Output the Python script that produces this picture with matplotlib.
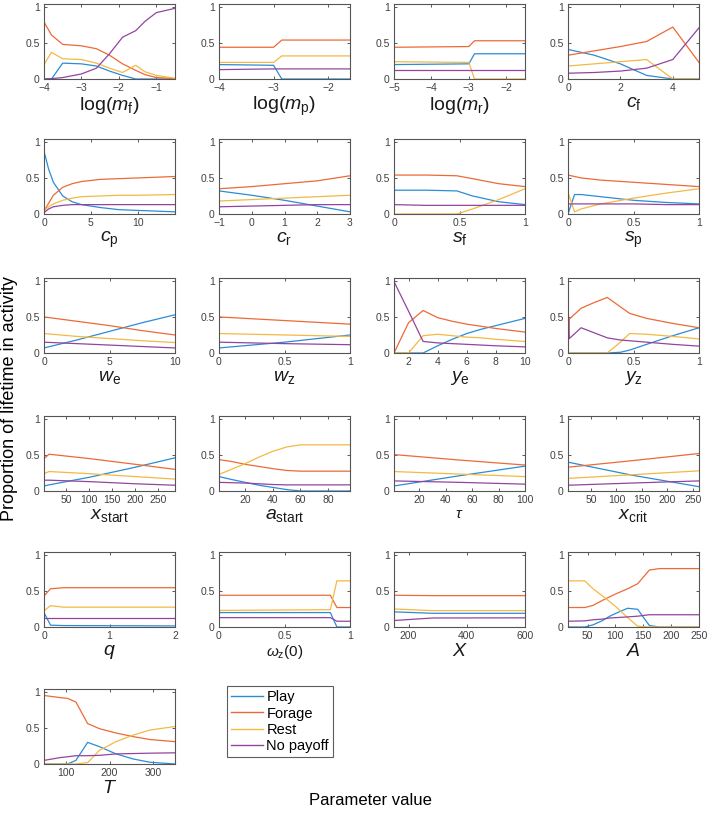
import matplotlib
matplotlib.use('Agg')
import matplotlib.pyplot as plt
from matplotlib.ticker import FuncFormatter
from matplotlib.lines import Line2D

plt.rcParams['font.family'] = ['Liberation Sans', 'DejaVu Sans']
plt.rcParams['mathtext.fontset'] = 'custom'
plt.rcParams['mathtext.rm'] = 'Liberation Sans'
plt.rcParams['mathtext.it'] = 'Liberation Sans:italic'

# series names and colours (MATLAB-like)
series_names = ['Play', 'Forage', 'Rest', 'No payoff']
series_colors = ['#2b8cd6', '#ec6a37', '#f4b942', '#93449f']

# ---- data ----
# log(m_f)
mf_x = [-4, -3.8, -3.5, -3, -2.6, -2.25, -1.9, -1.55, -1.3, -1, -0.5]
mf_play = [0, 0, 0.22, 0.21, 0.18, 0.11, 0.05, 0, 0, 0, 0]
mf_forage = [0.79, 0.61, 0.48, 0.46, 0.42, 0.33, 0.21, 0.12, 0.06, 0.02, 0.005]
mf_rest = [0.2, 0.37, 0.28, 0.27, 0.22, 0.15, 0.09, 0.19, 0.1, 0.05, 0.01]
mf_nopay = [0, 0.005, 0.02, 0.07, 0.15, 0.35, 0.58, 0.67, 0.8, 0.92, 0.98]

# log(m_p)
mp_x = [-4, -3, -2.85, -1.6]
mp_play = [0.2, 0.19, 0, 0]
mp_forage = [0.44, 0.44, 0.54, 0.54]
mp_rest = [0.23, 0.23, 0.32, 0.32]
mp_nopay = [0.13, 0.14, 0.14, 0.14]

# log(m_r)
mr_x = [-5, -3, -2.85, -1.5]
mr_play = [0.2, 0.21, 0.35, 0.35]
mr_forage = [0.44, 0.45, 0.53, 0.53]
mr_rest = [0.24, 0.23, 0, 0]
mr_nopay = [0.12, 0.12, 0.12, 0.12]

# c_f
cf_x = [0, 1, 2, 3, 4, 5]
cf_play = [0.41, 0.33, 0.21, 0.05, 0, 0]
cf_forage = [0.33, 0.39, 0.45, 0.52, 0.72, 0.23]
cf_rest = [0.18, 0.21, 0.24, 0.27, 0, 0]
cf_nopay = [0.08, 0.09, 0.11, 0.15, 0.27, 0.71]

# c_p
cp_x = [0, 0.5, 1, 2, 3, 4, 6, 8, 10, 14]
cp_play = [0.87, 0.62, 0.44, 0.25, 0.17, 0.13, 0.09, 0.06, 0.05, 0.03]
cp_forage = [0.04, 0.15, 0.26, 0.37, 0.42, 0.45, 0.48, 0.49, 0.5, 0.52]
cp_rest = [0.05, 0.1, 0.14, 0.19, 0.22, 0.24, 0.25, 0.26, 0.26, 0.27]
cp_nopay = [0.02, 0.07, 0.1, 0.12, 0.13, 0.13, 0.13, 0.13, 0.13, 0.13]

# c_r
cr_x = [-1, 0, 1, 2, 3]
cr_play = [0.32, 0.26, 0.19, 0.11, 0.03]
cr_forage = [0.35, 0.38, 0.42, 0.46, 0.53]
cr_rest = [0.18, 0.2, 0.22, 0.24, 0.26]
cr_nopay = [0.1, 0.11, 0.12, 0.13, 0.13]

# s_f
sf_x = [0, 0.25, 0.48, 0.6, 0.8, 1.0]
sf_play = [0.33, 0.33, 0.32, 0.25, 0.17, 0.13]
sf_forage = [0.54, 0.54, 0.53, 0.49, 0.42, 0.38]
sf_rest = [0, 0, 0, 0.07, 0.2, 0.35]
sf_nopay = [0.13, 0.12, 0.12, 0.12, 0.12, 0.12]

# s_p
sp_x = [0, 0.05, 0.1, 0.25, 0.5, 0.75, 1]
sp_play = [0, 0.27, 0.27, 0.24, 0.19, 0.16, 0.14]
sp_forage = [0.54, 0.52, 0.5, 0.47, 0.44, 0.41, 0.38]
sp_rest = [0.3, 0.03, 0.07, 0.14, 0.22, 0.29, 0.35]
sp_nopay = [0.14, 0.14, 0.14, 0.14, 0.14, 0.13, 0.13]

# w_e
we_x = [0, 2.5, 5, 7.5, 10]
we_play = [0.07, 0.18, 0.3, 0.42, 0.53]
we_forage = [0.5, 0.44, 0.38, 0.31, 0.25]
we_rest = [0.27, 0.23, 0.2, 0.17, 0.145]
we_nopay = [0.15, 0.13, 0.11, 0.09, 0.07]

# w_z
wz_x = [0, 0.5, 1]
wz_play = [0.07, 0.15, 0.25]
wz_forage = [0.5, 0.45, 0.4]
wz_rest = [0.27, 0.25, 0.23]
wz_nopay = [0.15, 0.13, 0.115]

# y_e
ye_x = [1, 2, 3, 4, 5, 6, 7, 8, 10]
ye_play = [0, 0, 0, 0.1, 0.19, 0.27, 0.33, 0.38, 0.48]
ye_forage = [0, 0.42, 0.59, 0.49, 0.44, 0.4, 0.37, 0.34, 0.29]
ye_rest = [0, 0, 0.24, 0.26, 0.24, 0.22, 0.21, 0.19, 0.16]
ye_nopay = [0.99, 0.58, 0.16, 0.14, 0.13, 0.12, 0.11, 0.1, 0.085]

# y_z
yz_x = [0, 0.01, 0.1, 0.2, 0.3, 0.4, 0.47, 0.6, 0.8, 1.0]
yz_play = [0, 0, 0, 0, 0, 0.01, 0.04, 0.12, 0.24, 0.35]
yz_forage = [0.02, 0.47, 0.62, 0.7, 0.77, 0.64, 0.55, 0.48, 0.41, 0.35]
yz_rest = [0.04, 0, 0, 0, 0, 0.15, 0.27, 0.26, 0.23, 0.195]
yz_nopay = [0.69, 0.2, 0.35, 0.28, 0.21, 0.18, 0.17, 0.15, 0.12, 0.095]

# x_start
xs_x = [2, 13, 100, 200, 286]
xs_play = [0.07, 0.085, 0.19, 0.33, 0.46]
xs_forage = [0.45, 0.51, 0.45, 0.37, 0.3]
xs_rest = [0.24, 0.27, 0.24, 0.2, 0.165]
xs_nopay = [0.15, 0.15, 0.13, 0.1, 0.08]

# a_start
as_x = [1, 10, 20, 30, 40, 50, 60, 96]
as_play = [0.2, 0.16, 0.12, 0.08, 0.05, 0.02, 0.0, 0.0]
as_forage = [0.435, 0.41, 0.37, 0.34, 0.31, 0.285, 0.275, 0.275]
as_rest = [0.23, 0.3, 0.38, 0.47, 0.55, 0.61, 0.64, 0.64]
as_nopay = [0.12, 0.115, 0.11, 0.1, 0.09, 0.085, 0.085, 0.085]

# tau
tau_x = [1, 50, 100]
tau_play = [0.07, 0.21, 0.345]
tau_forage = [0.505, 0.43, 0.36]
tau_rest = [0.27, 0.235, 0.2]
tau_nopay = [0.14, 0.12, 0.095]

# x_crit
xc_x = [5, 130, 262]
xc_play = [0.4, 0.22, 0.06]
xc_forage = [0.33, 0.42, 0.52]
xc_rest = [0.175, 0.225, 0.28]
xc_nopay = [0.08, 0.11, 0.14]

# q
q_x = [0, 0.1, 0.3, 2]
q_play = [0.2, 0.025, 0.02, 0.015]
q_forage = [0.43, 0.53, 0.545, 0.545]
q_rest = [0.225, 0.295, 0.275, 0.275]
q_nopay = [0.125, 0.125, 0.125, 0.125]

# omega_z(0)
wz0_x = [0, 0.85, 0.9, 1]
wz0_play = [0.2, 0.2, 0, 0]
wz0_forage = [0.44, 0.44, 0.27, 0.27]
wz0_rest = [0.23, 0.24, 0.64, 0.64]
wz0_nopay = [0.13, 0.13, 0.08, 0.08]

# X
bx_x = [150, 283, 600]
bx_play = [0.21, 0.19, 0.19]
bx_forage = [0.44, 0.435, 0.435]
bx_rest = [0.25, 0.227, 0.227]
bx_nopay = [0.09, 0.125, 0.127]

# A
ba_x = [15, 45, 60, 77, 90, 101, 122, 140, 161, 179, 250]
ba_play = [0, 0, 0.03, 0.09, 0.15, 0.19, 0.26, 0.245, 0.02, 0, 0]
ba_forage = [0.27, 0.27, 0.3, 0.37, 0.42, 0.46, 0.53, 0.6, 0.79, 0.81, 0.81]
ba_rest = [0.64, 0.64, 0.53, 0.43, 0.35, 0.28, 0.13, 0.01, 0, 0, 0]
ba_nopay = [0.08, 0.085, 0.1, 0.11, 0.125, 0.13, 0.14, 0.15, 0.17, 0.17, 0.17]

# T
bt_x = [50, 88, 104, 123, 150, 177, 215, 254, 292, 350]
bt_play = [0, 0, 0, 0.05, 0.3, 0.24, 0.14, 0.07, 0.025, 0.0]
bt_forage = [0.95, 0.92, 0.91, 0.86, 0.56, 0.49, 0.43, 0.38, 0.34, 0.31]
bt_rest = [0, 0, 0, 0, 0.02, 0.19, 0.31, 0.4, 0.47, 0.52]
bt_nopay = [0.05, 0.09, 0.1, 0.115, 0.115, 0.12, 0.14, 0.145, 0.15, 0.155]

# panel labels and x ticks
panels = [
    (r'log($m_{\mathrm{f}}$)', mf_x, [mf_play, mf_forage, mf_rest, mf_nopay], [-4, -3, -2, -1]),
    (r'log($m_{\mathrm{p}}$)', mp_x, [mp_play, mp_forage, mp_rest, mp_nopay], [-4, -3, -2]),
    (r'log($m_{\mathrm{r}}$)', mr_x, [mr_play, mr_forage, mr_rest, mr_nopay], [-5, -4, -3, -2]),
    (r'$c_{\mathrm{f}}$', cf_x, [cf_play, cf_forage, cf_rest, cf_nopay], [0, 2, 4]),
    (r'$c_{\mathrm{p}}$', cp_x, [cp_play, cp_forage, cp_rest, cp_nopay], [0, 5, 10]),
    (r'$c_{\mathrm{r}}$', cr_x, [cr_play, cr_forage, cr_rest, cr_nopay], [-1, 0, 1, 2, 3]),
    (r'$s_{\mathrm{f}}$', sf_x, [sf_play, sf_forage, sf_rest, sf_nopay], [0, 0.5, 1]),
    (r'$s_{\mathrm{p}}$', sp_x, [sp_play, sp_forage, sp_rest, sp_nopay], [0, 0.5, 1]),
    (r'$w_{\mathrm{e}}$', we_x, [we_play, we_forage, we_rest, we_nopay], [0, 5, 10]),
    (r'$w_{\mathrm{z}}$', wz_x, [wz_play, wz_forage, wz_rest, wz_nopay], [0, 0.5, 1]),
    (r'$y_{\mathrm{e}}$', ye_x, [ye_play, ye_forage, ye_rest, ye_nopay], [2, 4, 6, 8, 10]),
    (r'$y_{\mathrm{z}}$', yz_x, [yz_play, yz_forage, yz_rest, yz_nopay], [0, 0.5, 1]),
    (r'$x_{\mathrm{start}}$', xs_x, [xs_play, xs_forage, xs_rest, xs_nopay], [50, 100, 150, 200, 250]),
    (r'$a_{\mathrm{start}}$', as_x, [as_play, as_forage, as_rest, as_nopay], [20, 40, 60, 80]),
    (r'$\tau$', tau_x, [tau_play, tau_forage, tau_rest, tau_nopay], [20, 40, 60, 80, 100]),
    (r'$x_{\mathrm{crit}}$', xc_x, [xc_play, xc_forage, xc_rest, xc_nopay], [50, 100, 150, 200, 250]),
    (r'$q$', q_x, [q_play, q_forage, q_rest, q_nopay], [0, 1, 2]),
    (r'$\omega_{\mathrm{z}}$(0)', wz0_x, [wz0_play, wz0_forage, wz0_rest, wz0_nopay], [0, 0.5, 1]),
    (r'$X$', bx_x, [bx_play, bx_forage, bx_rest, bx_nopay], [200, 400, 600]),
    (r'$A$', ba_x, [ba_play, ba_forage, ba_rest, ba_nopay], [50, 100, 150, 200, 250]),
    (r'$T$', bt_x, [bt_play, bt_forage, bt_rest, bt_nopay], [100, 200, 300]),
]

W, H = 709, 824
fig = plt.figure(figsize=(W / 100, H / 100), dpi=100)

col_left = [44, 219, 394, 568]
row_top = [4, 139, 278, 416, 552, 689]
ax_w, ax_h = 131, 75

fmt = FuncFormatter(lambda v, p: ('%g' % v).replace('-', '\u2212'))

for i, (label, x, ys, ticks) in enumerate(panels):
    r, c = divmod(i, 4)
    ax = fig.add_axes([col_left[c] / W, 1 - (row_top[r] + ax_h) / H, ax_w / W, ax_h / H])
    for y, col in zip(ys, series_colors):
        ax.plot(x, y, color=col, lw=0.9)
    ax.set_xlim(min(x), max(x))
    ax.set_ylim(0, 1.04)
    ax.set_yticks([0, 0.5, 1])
    ax.set_xticks(ticks)
    ax.xaxis.set_major_formatter(fmt)
    ax.yaxis.set_major_formatter(fmt)
    ax.tick_params(direction='in', length=2.5, width=0.6, labelsize=7.5,
                   colors='#404040', top=True, right=True, pad=3)
    for s in ax.spines.values():
        s.set_color('#555555')
        s.set_linewidth(0.8)
    fs = 11 if label.startswith(r'$\omega') or label == r'$\tau$' else 14
    ax.set_xlabel(label, fontsize=fs, labelpad=1, color='#1a1a1a')

handles = [Line2D([], [], color=c, lw=1) for c in series_colors]
leg = fig.legend(handles, series_names, loc='upper left',
                 bbox_to_anchor=(227 / W, 1 - 686 / H), fontsize=10.5,
                 frameon=True, fancybox=False, handlelength=2.2,
                 handletextpad=0.2, borderpad=0.3, labelspacing=0.15,
                 borderaxespad=0)
leg.get_frame().set_edgecolor('#333333')
leg.get_frame().set_linewidth(0.8)

fig.text(0.014, 0.516, 'Proportion of lifetime in activity', rotation=90,
         ha='center', va='center', fontsize=13)
fig.text(0.522, 0.028, 'Parameter value', ha='center', va='center', fontsize=12)

fig.savefig('out.png', dpi=100)
